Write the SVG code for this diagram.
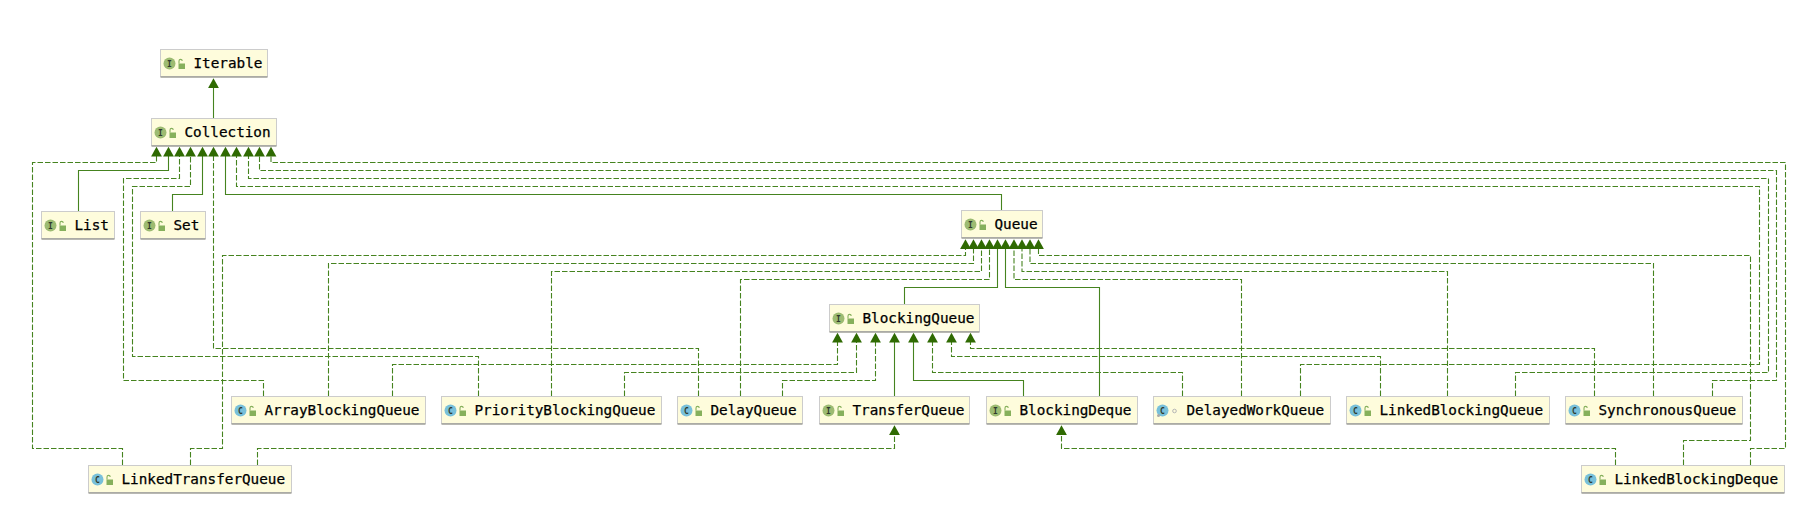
<svg xmlns="http://www.w3.org/2000/svg" width="1806" height="508" viewBox="0 0 1806 508">
<style>
.box{fill:#fefcdc;stroke:#cccccc;stroke-width:1}
.sh{fill:none;stroke:#a0a098;stroke-width:1.4}
.ii{fill:#9dbb72}.ci{fill:#78c0da}
.ig{font:bold 8px "DejaVu Sans Mono",monospace;fill:#2f3a2c;text-anchor:middle}
.lb{font:14.3px "DejaVu Sans Mono",monospace;fill:#000;stroke:#000;stroke-width:.25}
.s,.d{fill:none;stroke:#45831f;stroke-width:1.1;marker-end:url(#a)}
.d{stroke-dasharray:5.5 2}
.lk{fill:#86b05c}.lks{fill:none;stroke:#86b05c;stroke-width:1.100}
</style>
<defs>
<marker id="a" markerUnits="userSpaceOnUse" markerWidth="11" markerHeight="12" refX="0.5" refY="6" orient="auto"><path d="M0 .6L9.800 6L0 11.400z" fill="#2f6a02"/></marker>
<g id="lock"><rect x="18" y="14" width="6.500" height="5.500" class="lk"/><path d="M18.500 14v-2.500a1.600 1.600 0 0 1 3.200 0" class="lks"/></g>
</defs>
<rect width="1806" height="508" fill="#fff"/>
<g id="connectors">
<path class="s" d="M213.500 118V87.500"/>
<path class="d" d="M122.500 465V448.500H32.500V162.500H156.500V156"/>
<path class="s" d="M78.500 211V170.500H168.500V156"/>
<path class="d" d="M263.500 396V380.500H123.500V178.500H179.500V156"/>
<path class="d" d="M478.500 396V356.500H132.500V186.500H190.500V156"/>
<path class="s" d="M172.500 211V194.500H202.500V156"/>
<path class="d" d="M698.500 396V348.500H213.500V156"/>
<path class="s" d="M1001.500 210V194.500H225.500V156"/>
<path class="d" d="M1300.500 396V364.500H1759.500V186.500H236.500V156"/>
<path class="d" d="M1515.500 396V372.500H1768.500V178.500H248.500V156"/>
<path class="d" d="M1712.500 396V380.500H1776.500V170.500H259.500V156"/>
<path class="d" d="M1750.500 465V448.500H1785.500V162.500H271V156"/>
<path class="d" d="M190.500 465V448.500H222.500V255.500H965.500V248.500"/>
<path class="d" d="M328.500 396V263.500H973.500V248.500"/>
<path class="d" d="M551.500 396V271.500H981.500V248.500"/>
<path class="d" d="M740.500 396V279.500H989.500V248.500"/>
<path class="s" d="M904.500 304V287.500H997.500V248.500"/>
<path class="s" d="M1099.500 396V287.500H1005.500V248.500"/>
<path class="d" d="M1241.500 396V279.500H1014V248.500"/>
<path class="d" d="M1447.500 396V271.500H1022V248.500"/>
<path class="d" d="M1653.500 396V263.500H1030V248.500"/>
<path class="d" d="M1683.500 465V440.500H1750.500V255.500H1038.500V248.500"/>
<path class="d" d="M392.500 396V364.500H837.500V342"/>
<path class="d" d="M624.500 396V372.500H856.500V342"/>
<path class="d" d="M782.500 396V380.500H875.500V342"/>
<path class="s" d="M894.500 396V342"/>
<path class="s" d="M1023.500 396V380.500H913.500V342"/>
<path class="d" d="M1182.500 396V372.500H932.500V342"/>
<path class="d" d="M1380.500 396V356.500H951.500V342"/>
<path class="d" d="M1594.500 396V348.500H970.500V342"/>
<path class="d" d="M257.500 465V448.500H894.500V434.500"/>
<path class="d" d="M1615.500 465V448.500H1061.500V434.500"/>
</g>
<g id="Iterable" transform="translate(160.500 49.500)"><rect class="box" width="107" height="27"/><path class="sh" d="M0 27.500H107"/><circle class="ii" cx="9" cy="14" r="6"/><text class="ig" x="9" y="17">I</text><use href="#lock"/><text class="lb" x="33" y="18.500">Iterable</text></g>
<g id="Collection" transform="translate(151.500 118.500)"><rect class="box" width="125" height="27"/><path class="sh" d="M0 27.500H125"/><circle class="ii" cx="9" cy="14" r="6"/><text class="ig" x="9" y="17">I</text><use href="#lock"/><text class="lb" x="33" y="18.500">Collection</text></g>
<g id="List" transform="translate(41.500 211.500)"><rect class="box" width="73" height="27"/><path class="sh" d="M0 27.500H73"/><circle class="ii" cx="9" cy="14" r="6"/><text class="ig" x="9" y="17">I</text><use href="#lock"/><text class="lb" x="33" y="18.500">List</text></g>
<g id="Set" transform="translate(140.500 211.500)"><rect class="box" width="65" height="27"/><path class="sh" d="M0 27.500H65"/><circle class="ii" cx="9" cy="14" r="6"/><text class="ig" x="9" y="17">I</text><use href="#lock"/><text class="lb" x="33" y="18.500">Set</text></g>
<g id="Queue" transform="translate(961.500 210.500)"><rect class="box" width="81" height="27"/><path class="sh" d="M0 27.500H81"/><circle class="ii" cx="9" cy="14" r="6"/><text class="ig" x="9" y="17">I</text><use href="#lock"/><text class="lb" x="33" y="18.500">Queue</text></g>
<g id="BlockingQueue" transform="translate(829.500 304.500)"><rect class="box" width="150" height="27"/><path class="sh" d="M0 27.500H150"/><circle class="ii" cx="9" cy="14" r="6"/><text class="ig" x="9" y="17">I</text><use href="#lock"/><text class="lb" x="33" y="18.500">BlockingQueue</text></g>
<g id="ArrayBlockingQueue" transform="translate(231.500 396.500)"><rect class="box" width="194" height="27"/><path class="sh" d="M0 27.500H194"/><circle class="ci" cx="9" cy="14" r="6"/><text class="ig" x="9" y="17">C</text><use href="#lock"/><text class="lb" x="33" y="18.500">ArrayBlockingQueue</text></g>
<g id="PriorityBlockingQueue" transform="translate(441.500 396.500)"><rect class="box" width="220" height="27"/><path class="sh" d="M0 27.500H220"/><circle class="ci" cx="9" cy="14" r="6"/><text class="ig" x="9" y="17">C</text><use href="#lock"/><text class="lb" x="33" y="18.500">PriorityBlockingQueue</text></g>
<g id="DelayQueue" transform="translate(677.500 396.500)"><rect class="box" width="125" height="27"/><path class="sh" d="M0 27.500H125"/><circle class="ci" cx="9" cy="14" r="6"/><text class="ig" x="9" y="17">C</text><use href="#lock"/><text class="lb" x="33" y="18.500">DelayQueue</text></g>
<g id="TransferQueue" transform="translate(819.500 396.500)"><rect class="box" width="150" height="27"/><path class="sh" d="M0 27.500H150"/><circle class="ii" cx="9" cy="14" r="6"/><text class="ig" x="9" y="17">I</text><use href="#lock"/><text class="lb" x="33" y="18.500">TransferQueue</text></g>
<g id="BlockingDeque" transform="translate(986.500 396.500)"><rect class="box" width="151" height="27"/><path class="sh" d="M0 27.500H151"/><circle class="ii" cx="9" cy="14" r="6"/><text class="ig" x="9" y="17">I</text><use href="#lock"/><text class="lb" x="33" y="18.500">BlockingDeque</text></g>
<g id="DelayedWorkQueue" transform="translate(1153.500 396.500)"><rect class="box" width="177" height="27"/><path class="sh" d="M0 27.500H177"/><circle class="ci" cx="9" cy="14" r="6"/><text class="ig" x="9" y="17">C</text><circle cx="5" cy="19" r="1.500" fill="#a8a8a8"/><circle cx="21" cy="14.500" r="1.800" fill="none" stroke="#b5b5b5"/><text class="lb" x="33" y="18.500">DelayedWorkQueue</text></g>
<g id="LinkedBlockingQueue" transform="translate(1346.500 396.500)"><rect class="box" width="203" height="27"/><path class="sh" d="M0 27.500H203"/><circle class="ci" cx="9" cy="14" r="6"/><text class="ig" x="9" y="17">C</text><use href="#lock"/><text class="lb" x="33" y="18.500">LinkedBlockingQueue</text></g>
<g id="SynchronousQueue" transform="translate(1565.500 396.500)"><rect class="box" width="177" height="27"/><path class="sh" d="M0 27.500H177"/><circle class="ci" cx="9" cy="14" r="6"/><text class="ig" x="9" y="17">C</text><use href="#lock"/><text class="lb" x="33" y="18.500">SynchronousQueue</text></g>
<g id="LinkedTransferQueue" transform="translate(88.500 465.500)"><rect class="box" width="203" height="27"/><path class="sh" d="M0 27.500H203"/><circle class="ci" cx="9" cy="14" r="6"/><text class="ig" x="9" y="17">C</text><use href="#lock"/><text class="lb" x="33" y="18.500">LinkedTransferQueue</text></g>
<g id="LinkedBlockingDeque" transform="translate(1581.500 465.500)"><rect class="box" width="203" height="27"/><path class="sh" d="M0 27.500H203"/><circle class="ci" cx="9" cy="14" r="6"/><text class="ig" x="9" y="17">C</text><use href="#lock"/><text class="lb" x="33" y="18.500">LinkedBlockingDeque</text></g>
</svg>
